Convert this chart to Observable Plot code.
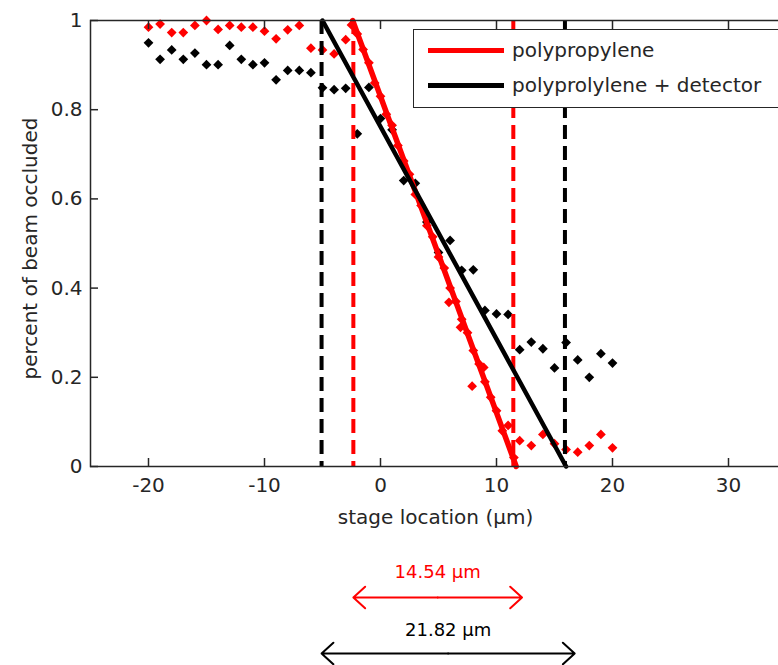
<!DOCTYPE html>
<html>
<head>
<meta charset="utf-8">
<script src="https://cdn.jsdelivr.net/npm/d3@7"></script>
<script src="https://cdn.jsdelivr.net/npm/@observablehq/plot@0.6"></script>
<style>
  html, body { margin: 0; padding: 0; background: #fff; }
  #wrap { position: relative; width: 778px; height: 665px; overflow: hidden; font-family: "DejaVu Sans", sans-serif; }
  #legend { position: absolute; left: 413px; top: 29px; width: 380px; height: 79px; background: #fff;
            border: 1.5px solid #262626; box-sizing: border-box; }
  .item { position: absolute; left: 14px; height: 30px; display: flex; align-items: center; }
  .swatch { width: 76px; height: 5px; margin-right: 8px; }
  .lbl { font-size: 20px; color: #262626; white-space: nowrap; }
</style>
</head>
<body>
<div id="wrap"></div>
<script>
// ---------- data ----------
const seriesNames = ["polypropylene", "polyprolylene + detector"];
const seriesColors = ["#ff0000", "#000000"];

// polypropylene (red) measured points
const redX = [-20,-19,-18,-17,-16,-15,-14,-13,-12,-11,-10,-9,-8,-7,-6,-5,-4,-3,
  -2.5,-2,-1.5,-1,-0.5,0,0.5,1,1.5,2,2.5,3,3.5,4,4.5,5,5.5,5.9,6,6.5,6.9,7,7.5,7.9,8,8.5,8.9,9,9.5,10,10.5,11,11.5,
  12,13,14,15,16,17,18,19,20];
const redY = [0.985,0.992,0.973,0.973,0.989,1.0,0.980,0.989,0.985,0.985,0.976,0.959,0.979,0.989,0.938,0.934,0.925,0.957,
  0.99,0.97,0.935,0.905,0.86,0.83,0.79,0.765,0.72,0.685,0.655,0.61,0.585,0.54,0.515,0.47,0.445,0.368,0.40,0.37,0.312,0.33,0.30,0.18,0.26,0.23,0.222,0.19,0.155,0.125,0.08,0.092,0.02,
  0.058,0.047,0.072,0.051,0.038,0.032,0.047,0.072,0.042];

// polyprolylene + detector (black) measured points
const blackX = [-20,-19,-18,-17,-16,-15,-14,-13,-12,-11,-10,-9,-8,-7,-6,-5,-4,-3,-2,-1,0,1,2,3,4,5,6,7,8,9,10,11,12,13,14,15,16,17,18,19,20];
const blackY = [0.950,0.913,0.934,0.913,0.927,0.901,0.901,0.944,0.913,0.901,0.905,0.867,0.888,0.888,0.883,0.849,0.845,0.848,0.746,0.85,0.78,0.755,0.641,0.635,0.548,0.48,0.507,0.44,0.441,0.35,0.342,0.341,0.262,0.279,0.264,0.221,0.278,0.239,0.200,0.253,0.232];

// linear fits (x at occlusion 1 and 0)
const fitRedX = [-2.4, 11.7];
const fitBlackX = [-5.0, 16.0];
const fitY = [1, 0];

// dashed cut-off markers
const cutRedX = [-2.34, 11.45];
const cutBlackX = [-5.08, 15.9];

// width annotations
const widthStart = [-2.34, -5.08];
const widthValues = [14.54, 21.82];

const xTicks = [-20, -10, 0, 10, 20, 30];
const yTicks = [0, 0.2, 0.4, 0.6, 0.8, 1];
const xLabel = "stage location (µm)";
const yLabel = "percent of beam occluded";

// ---------- build ----------
const pts = (xs, ys) => xs.map((x, i) => ({x, y: ys[i]}));
const fit = (xs) => xs.map((x, i) => ({x, y: fitY[i]}));
const ann = widthStart.map((s, i) => ({x1: s, x2: s + widthValues[i], mid: s + widthValues[i] / 2,
  text: widthValues[i].toFixed(2) + " µm", color: seriesColors[i]}));
const axisColor = "#262626";
const dash = "14,7";
// vertical offsets (px below the x axis) of each annotation: [text, arrow]
const annOffsets = [[111, 131], [169, 187]];

const annMarks = ann.flatMap((a, i) => [
  Plot.text([a], {x: "mid", frameAnchor: "bottom", dy: annOffsets[i][0], text: "text", fill: "color", fontSize: 18}),
  Plot.arrow([a], {x1: "mid", x2: "x1", y1: 0, y2: 0, dy: annOffsets[i][1], stroke: "color", strokeWidth: 2, headLength: 12, headAngle: 85}),
  Plot.arrow([a], {x1: "mid", x2: "x2", y1: 0, y2: 0, dy: annOffsets[i][1], stroke: "color", strokeWidth: 2, headLength: 12, headAngle: 85})
]);

const chart = Plot.plot({
  width: 778, height: 665,
  marginLeft: 90, marginRight: -8, marginTop: 20, marginBottom: 199,
  x: {domain: [-25, 35]},
  y: {domain: [0, 1]},
  style: {fontFamily: "DejaVu Sans", fontSize: "20px", color: axisColor, background: "white"},
  marks: [
    Plot.dot(pts(redX, redY), {x: "x", y: "y", symbol: "diamond2", r: 4.4, fill: seriesColors[0], stroke: null}),
    Plot.dot(pts(blackX, blackY), {x: "x", y: "y", symbol: "diamond2", r: 4.4, fill: seriesColors[1], stroke: null}),
    Plot.ruleX(cutRedX, {stroke: seriesColors[0], strokeWidth: 4, strokeDasharray: dash}),
    Plot.ruleX(cutBlackX, {stroke: seriesColors[1], strokeWidth: 4, strokeDasharray: dash}),
    Plot.line(fit(fitRedX), {x: "x", y: "y", stroke: seriesColors[0], strokeWidth: 5.5}),
    Plot.line(fit(fitBlackX), {x: "x", y: "y", stroke: seriesColors[1], strokeWidth: 4.5}),
    Plot.frame({stroke: axisColor, strokeWidth: 1.5}),
    Plot.axisX({anchor: "bottom", ticks: xTicks, tickFormat: d => String(d), tickSize: -8, tickPadding: 19, label: null, stroke: axisColor, strokeWidth: 1.5}),
    Plot.axisX({anchor: "top", ticks: xTicks, tickFormat: () => "", tickSize: -8, label: null, stroke: axisColor, strokeWidth: 1.5}),
    Plot.axisY({anchor: "left", ticks: yTicks, tickFormat: d => String(d), tickSize: -8, tickPadding: 16, label: null, stroke: axisColor, strokeWidth: 1.5}),
    Plot.axisY({anchor: "right", ticks: yTicks, tickFormat: () => "", tickSize: -8, label: null, stroke: axisColor, strokeWidth: 1.5}),
    Plot.text([xLabel], {frameAnchor: "bottom", dy: 57, dx: -3, fontSize: 20, fill: axisColor}),
    Plot.text([yLabel], {frameAnchor: "left", textAnchor: "middle", dx: -60, dy: 5, rotate: -90, fontSize: 20, fill: axisColor}),
    ...annMarks
  ]
});

document.getElementById("wrap").appendChild(chart);

// legend (boxed, top right, as in the original)
const legend = document.createElement("div");
legend.id = "legend";
seriesNames.forEach((name, i) => {
  const item = document.createElement("div");
  item.className = "item";
  item.style.top = (i === 0 ? 5 : 40) + "px";
  item.innerHTML = `<div class="swatch" style="background:${seriesColors[i]}"></div><span class="lbl">${name}</span>`;
  legend.appendChild(item);
});
document.getElementById("wrap").appendChild(legend);
</script>
</body>
</html>
